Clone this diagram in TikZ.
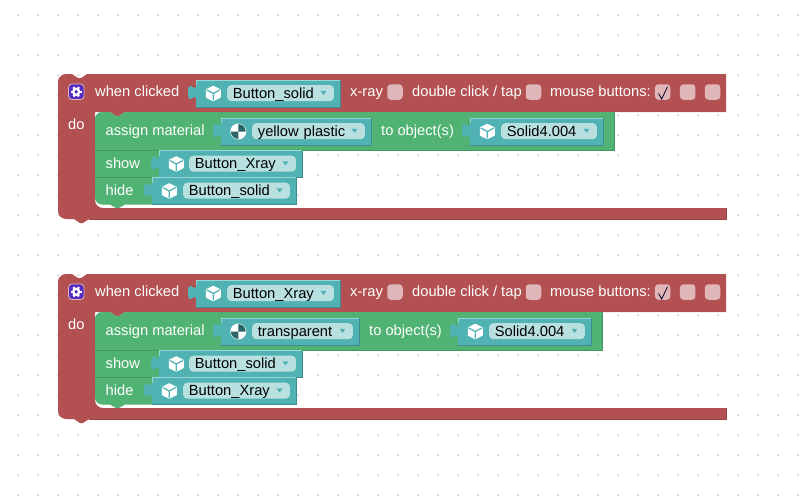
\documentclass[tikz,border=0pt]{standalone}
\usepackage{fontspec}
\setmainfont{Liberation Sans}
\usepackage{xcolor}
\usetikzlibrary{positioning}
\definecolor{blockred}{RGB}{178, 80, 82}
\definecolor{reddark}{RGB}{150, 66, 68}
\definecolor{blockgreen}{RGB}{80, 178, 115}
\definecolor{greendark}{RGB}{66, 150, 96}
\definecolor{blockteal}{RGB}{80, 178, 178}
\definecolor{tealdark}{RGB}{62, 140, 140}
\definecolor{ballteal}{RGB}{42, 100, 104}
\definecolor{teallight}{RGB}{150, 215, 215}
\definecolor{fieldpale}{RGB}{185, 224, 224}
\definecolor{checkpale}{RGB}{224, 182, 184}
\definecolor{gearpurple}{RGB}{88, 44, 190}
\definecolor{gridgray}{RGB}{212, 212, 212}
\tikzset{
  blocktext/.style={anchor=base west, inner sep=0pt, text=white, font=\fontsize{14.7}{17}\selectfont},
  fieldtext/.style={anchor=north west, inner xsep=5.7pt, inner ysep=0pt, fill=fieldpale, rounded corners=4pt,
    text=black, align=left, text height=13pt, text depth=3pt, font=\fontsize{14.7}{17}\selectfont},
  checkbox/.style={fill=checkpale, rounded corners=3.5pt, minimum size=15.5pt, inner sep=0pt}
}
% white cube on a value block
\newcommand{\cubeicon}[2]{
  \fill[white, draw=white, line width=1.6pt, line join=round] (#1,#2-6.9) -- (#1+6.7,#2-3.6) -- (#1+6.7,#2+3.6)
    -- (#1,#2+6.9) -- (#1-6.7,#2+3.6) -- (#1-6.7,#2-3.6) -- cycle;
  \draw[blockteal, line width=1.2pt] (#1-6.7,#2-3.6) -- (#1,#2) -- (#1+6.7,#2-3.6) (#1,#2) -- (#1,#2+6.9);
}
% material ball
\newcommand{\ballicon}[2]{
  \fill[white] (#1,#2) circle (8);
  \fill[ballteal] (#1,#2) -- (#1,#2-7.4) arc (-90:0:7.4) -- cycle;
  \fill[ballteal] (#1,#2) -- (#1,#2+7.4) arc (90:180:7.4) -- cycle;
}
% name, icon, left, right, top, left of the field, text
\newcommand{\valueblock}[7]{
  \fill[blockteal] (#3,#5) -- (#4,#5) -- (#4,#5+27) -- (#3,#5+27) -- (#3,#5+20)
    .. controls (#3,#5+10) and (#3-8,#5+28) .. (#3-8,#5+12.5)
    .. controls (#3-8,#5-3) and (#3,#5+15) .. (#3,#5+5) -- cycle;
  \draw[tealdark, line width=.7pt] (#4,#5) -- (#4,#5+27) -- (#3,#5+27);
  \draw[teallight, line width=.7pt] (#3,#5+5) -- (#3,#5) -- (#4,#5);
  #2{#3+17.3}{#5+13.5}
  \pgfmathsetmacro{\fieldw}{#4-6.3-#6-11.4}
  \node[fieldtext, text width=\fieldw pt] (#1) at (#6,#5+5) {#7};
  \fill[blockteal] (#4-19.5,#5+10.8) -- (#4-13.5,#5+10.8) -- (#4-16.5,#5+15) -- cycle;
}
% red frame, green stack and the fixed labels: prefix, right of green, x of to object(s)
\newcommand{\clickblock}[3]{
  \fill[blockred] (66,74) -- (72,74) -- (78,78) -- (81,78) -- (87,74) -- (726,74) -- (726,112)
    -- (125,112) -- (119,116) -- (116,116) -- (110,112) -- (95,112) -- (95,200)
    .. controls (95,204.4) and (98.6,208) .. (103,208) -- (726,208) -- (726,219) -- (89,219)
    -- (83,223) -- (80,223) -- (74,219) -- (66,219) .. controls (61.6,219) and (58,215.4) .. (58,211)
    -- (58,82) .. controls (58,77.6) and (61.6,74) .. (66,74) -- cycle;
  \draw[reddark, line width=.7pt] (89,219) -- (726,219) -- (726,208);
  % show and hide
  \fill[blockgreen] (95,150) -- (160,150) -- (160,177) -- (153,177) -- (153,204.5) -- (125,204.5) -- (119,208)
    -- (116,208) -- (110,204.5) -- (102,204.5) .. controls (98,204.5) and (95,201.5) .. (95,197.5) -- cycle;
  \draw[greendark, line width=.6pt] (95,177) -- (153,177);
  % assign material
  \fill[blockgreen] (95,150) -- (95,119) .. controls (95,115) and (98,112) .. (102,112) -- (110,112) -- (116,116)
    -- (119,116) -- (125,112) -- (#2,112) -- (#2,150) -- cycle;
  \draw[greendark, line width=.6pt] (95,150) -- (#2,150) -- (#2,112);
  % gear
  \fill[gearpurple, draw=checkpale, line width=.8pt, rounded corners=3.5pt] (68.5,84) rectangle (84,99.5);
  \foreach \a in {0,60,...,300}
    \draw[white, line width=2.2pt] (76.2,91.8) -- ++(\a:5.4);
  \fill[white] (76.2,91.8) circle (4.2);
  \fill[gearpurple] (76.2,91.8) circle (1.9);
  \node[blocktext] (#1when) at (95,96.7) {when clicked};
  \node[blocktext] (#1xray) at (350,96.7) {x-ray};
  \node[checkbox] (#1xraybox) at (395,92) {};
  \node[blocktext] (#1double) at (412,96.7) {double click / tap};
  \node[checkbox] (#1doublebox) at (533.5,92) {};
  \node[blocktext] (#1mouse) at (550,96.7) {mouse buttons:};
  \node[checkbox] (#1leftbox) at (662.7,92) {};
  \node[checkbox] (#1midbox) at (687.7,92) {};
  \node[checkbox] (#1rightbox) at (712.7,92) {};
  \draw[black!80!blue, line width=.8pt] (658.5,93.5) -- (661.7,99) -- (667.5,86.8);
  \node[blocktext] (#1do) at (68,129) {do};
  \node[blocktext] (#1assign) at (105.5,135) {assign material};
  \node[blocktext] (#1toobj) at (#3,135) {to object(s)};
  \node[blocktext] (#1show) at (105.5,168.3) {show};
  \node[blocktext] (#1hide) at (105.5,195.2) {hide};
}

\begin{document}
\begin{tikzpicture}[x=1pt, y=-1pt]
  \useasboundingbox (0,0) rectangle (809,498);
  \fill[white] (0,0) rectangle (809,498);
  % workspace dots
  \foreach \x in {18,38,...,798}
    \foreach \y in {15,35,...,495}
      \draw[gridgray, line width=.7pt] (\x-1.3,\y) -- (\x+1.3,\y) (\x,\y-1.3) -- (\x,\y+1.3);

  % first block
  \clickblock{a}{614}{381}
  \valueblock{aclicked}{\cubeicon}{196}{340}{80}{227}{Button\_solid}
  \valueblock{amaterial}{\ballicon}{221}{371}{118}{252}{yellow plastic}
  \valueblock{aobject}{\cubeicon}{470}{603}{118}{501}{Solid4.004}
  \valueblock{ashown}{\cubeicon}{159}{302}{150.5}{189}{Button\_Xray}
  \valueblock{ahidden}{\cubeicon}{152}{296}{177.5}{183}{Button\_solid}

  % second block
  \begin{scope}[yshift=-200pt]
    \clickblock{b}{602}{369}
    \valueblock{bclicked}{\cubeicon}{196}{340}{80}{227}{Button\_Xray}
    \valueblock{bmaterial}{\ballicon}{221}{359}{118}{252}{transparent}
    \valueblock{bobject}{\cubeicon}{458}{591}{118}{489}{Solid4.004}
    \valueblock{bshown}{\cubeicon}{159}{302}{150.5}{189}{Button\_solid}
    \valueblock{bhidden}{\cubeicon}{152}{296}{177.5}{183}{Button\_Xray}
  \end{scope}
\end{tikzpicture}
\end{document}
